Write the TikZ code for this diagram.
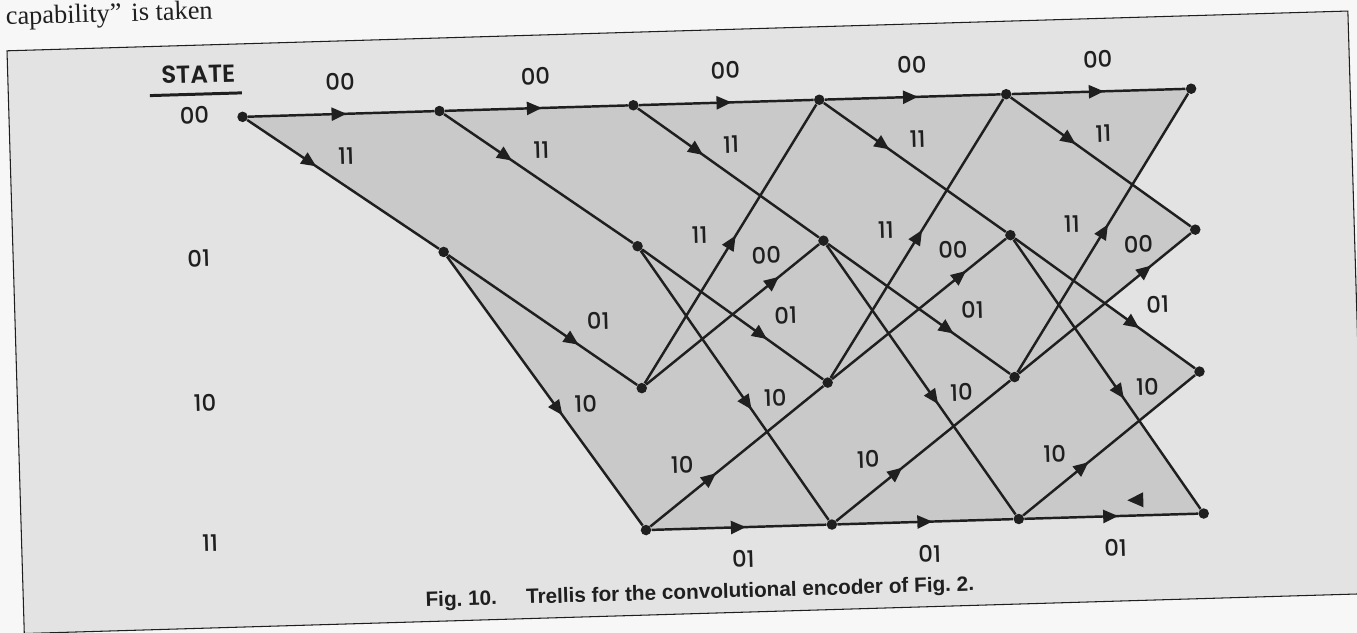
\documentclass[tikz,border=0pt]{standalone}
\usepackage{fontspec}
\setmainfont{Liberation Sans}
\newfontfamily\trellisfont{Poppins}[UprightFont=* Medium, BoldFont=* SemiBold]
\newfontfamily\pagefont{Liberation Serif}
\usetikzlibrary{arrows.meta,decorations.markings,backgrounds}

\definecolor{paper}{gray}{0.97}
\definecolor{panel}{gray}{0.89}
\definecolor{trellisgray}{gray}{0.79}
\definecolor{ink}{gray}{0.12}

\begin{document}
\begin{tikzpicture}[x=0.2mm, y=0.2mm,
  dot/.style={circle, fill=ink, inner sep=0pt, minimum size=2.1mm},
  lbl/.style={font=\trellisfont\fontsize{13}{13}\selectfont, text=ink, inner sep=0pt},
  trans/.style={color=ink, line width=1.4pt, postaction={decorate},
    decoration={markings, mark=at position #1 with {\arrow{Triangle[length=3mm,width=2.6mm]}}}}]

  \useasboundingbox (0,0) rectangle (1357,-633);
  \clip (0,0) rectangle (1357,-633);

  % the scanned page sits a little askew
  \begin{scope}[rotate=1.7, transform shape]

  % trellis points, one row per state
  \foreach \t/\u in {0/239,1/436,2/630,3/816,4/1003,5/1188}
    \node[dot] (s00t\t) at (\u,-124) {};
  \foreach \t/\u in {1/436,2/630,3/816,4/1003,5/1188}
    \node[dot] (s01t\t) at (\u,-265) {};
  \foreach \t/\u in {2/630,3/816,4/1003,5/1188}{
    \node[dot] (s10t\t) at (\u,-407) {};
    \node[dot] (s11t\t) at (\u,-549) {};
  }

  % page, frame and shaded trellis area
  \begin{scope}[on background layer]
    \fill[paper] (-50,50) rectangle (1420,-700);
    \filldraw[fill=panel, draw=ink, line width=0.6pt] (5.5,-51) rectangle (1347,-634);
    \fill[trellisgray] (s00t0.center) -- (s00t5.center)
      -- (intersection of s00t4--s01t5 and s10t4--s00t5) -- (s01t5.center)
      -- (intersection of s01t4--s10t5 and s10t4--s01t5) -- (s10t5.center)
      -- (intersection of s01t4--s11t5 and s11t4--s10t5) -- (s11t5.center)
      -- (s11t2.center) -- (s01t1.center) -- cycle;
  \end{scope}

  % line of running text cut by the scan
  \node[font=\pagefont\fontsize{15}{15}\selectfont, text=ink, anchor=base west, inner sep=0pt] (pagetext) at (5,-25) {capability”\hspace{2mm}is taken};

  % state column
  \node[lbl, font=\trellisfont\bfseries\fontsize{14}{14}\selectfont] (state) at (196,-80) {STATE};
  \draw[ink, line width=1.7pt] (147,-100) -- (239,-100);
  \node[lbl] (st00) at (191,-121) {00};
  \node[lbl] (st01) at (191,-264) {01};
  \node[lbl] (st10) at (193,-409) {10};
  \node[lbl] (st11) at (194,-549) {11};

  % first two steps
  \draw[trans=.53] (s00t0) -- node[lbl,pos=.5,yshift=6.4mm] {00} (s00t1);
  \draw[trans=.36] (s00t0) -- node[lbl,pos=.52,yshift=6.2mm] {11} (s01t1);
  \draw[trans=.53] (s00t1) -- node[lbl,pos=.5,yshift=6.4mm] {00} (s00t2);
  \draw[trans=.36] (s00t1) -- node[lbl,pos=.52,yshift=6.2mm] {11} (s01t2);
  \draw[trans=.69] (s01t1) -- node[lbl,pos=.8,yshift=7.6mm] {01} (s10t2);
  \draw[trans=.59] (s01t1) -- node[lbl,pos=.55,xshift=6.2mm] {10} (s11t2);

  % full steps
  \foreach \t/\n in {2/3,3/4,4/5}{
    \draw[trans=.53] (s00t\t) -- node[lbl,pos=.5,yshift=6.4mm] {00} (s00t\n);
    \draw[trans=.36] (s00t\t) -- node[lbl,pos=.52,yshift=6.2mm] {11} (s01t\n);
    \draw[trans=.69] (s01t\t) -- node[lbl,pos=.8,yshift=7.6mm] {01} (s10t\n);
    \draw[trans=.59] (s01t\t) -- node[lbl,pos=.55,xshift=6.2mm] {10} (s11t\n);
    \draw[trans=.53] (s10t\t) -- node[lbl,pos=.535,xshift=-7.4mm] {11} (s00t\n);
    \draw[trans=.77] (s10t\t) -- node[lbl,pos=.7,yshift=6.2mm] {00} (s01t\n);
    \draw[trans=.38] (s11t\t) -- node[lbl,pos=.19,yshift=7mm] {10} (s10t\n);
    \draw[trans=.54] (s11t\t) -- node[lbl,pos=.52,yshift=-6.4mm] {01} (s11t\n);
  }

  % stray arrowhead in the last step
  \fill[ink] (1128,-526) -- (1112,-533.5) -- (1128,-541) -- cycle;

  % caption
  \node[font=\bfseries\fontsize{11.8}{13}\selectfont, text=ink, inner sep=0pt] (caption) at (682,-614)
    {Fig.~10.\hspace{1.4em}Trellis for the convolutional encoder of Fig.~2.};

  \end{scope}
\end{tikzpicture}
\end{document}
